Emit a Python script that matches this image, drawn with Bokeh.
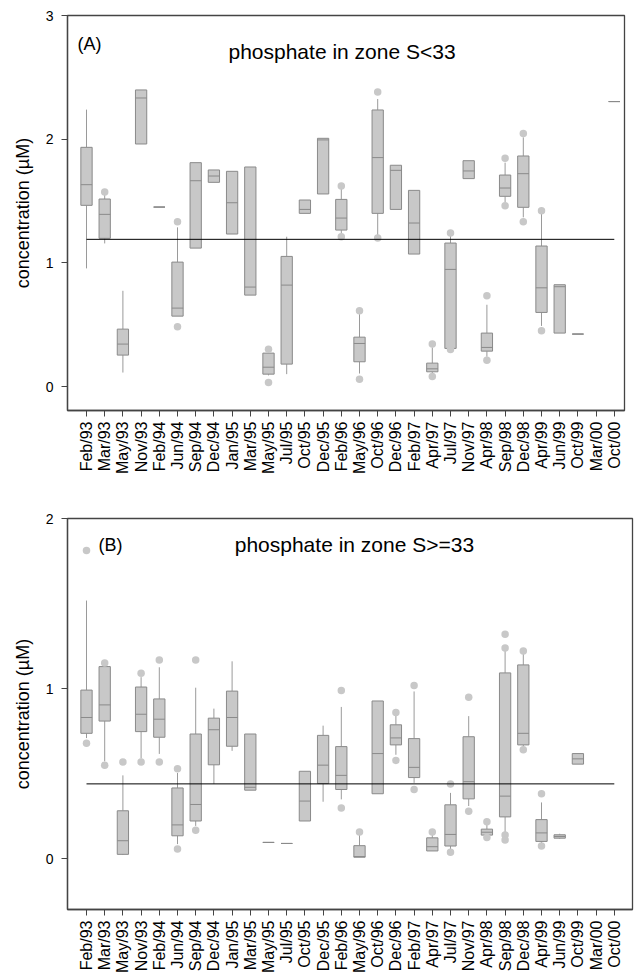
import math
from bokeh.plotting import figure
from bokeh.models import ColumnDataSource, FixedTicker, Label, Range1d
from bokeh.layouts import column
from bokeh.embed import file_html
from bokeh.resources import INLINE

# ---------------- data ----------------
months = ["Feb/93", "Mar/93", "May/93", "Nov/93", "Feb/94", "Jun/94", "Sep/94", "Dec/94",
          "Jan/95", "Mar/95", "May/95", "Jul/95", "Oct/95", "Dec/95", "Feb/96", "May/96",
          "Oct/96", "Dec/96", "Feb/97", "Apr/97", "Jul/97", "Nov/97", "Apr/98", "Sep/98",
          "Dec/98", "Apr/99", "Jun/99", "Oct/99", "Mar/00", "Oct/00"]

# Panel A: phosphate in zone S<33
a_wlo = [0.955, 1.157, 0.113, 1.961, 1.451, 0.569, 1.119, 1.651, 1.233, 0.739, 0.090, 0.100, 1.400, 1.557, 1.233,
         0.105, 1.220, 1.432, 1.071, 0.105, 0.308, 1.681, 0.240, 1.490, 1.368, 0.490, 0.432, 0.424, None, 2.304]
a_q1 = [1.465, 1.198, 0.254, 1.961, 1.451, 0.569, 1.119, 1.651, 1.233, 0.739, 0.100, 0.181, 1.400, 1.557, 1.265,
        0.200, 1.400, 1.432, 1.071, 0.119, 0.308, 1.681, 0.286, 1.538, 1.449, 0.599, 0.432, 0.424, None, 2.304]
a_med = [1.632, 1.392, 0.343, 2.333, 1.451, 0.634, 1.664, 1.702, 1.486, 0.804, 0.156, 0.820, 1.432, 1.994, 1.362,
         0.348, 1.851, 1.748, 1.322, 0.143, 0.947, 1.743, 0.316, 1.605, 1.721, 0.798, 0.807, 0.424, None, 2.304]
a_q3 = [1.934, 1.516, 0.464, 2.398, 1.451, 1.006, 1.810, 1.751, 1.740, 1.775, 0.270, 1.052, 1.508, 2.007, 1.513,
        0.399, 2.236, 1.789, 1.586, 0.189, 1.160, 1.826, 0.432, 1.710, 1.864, 1.136, 0.823, 0.424, None, 2.304]
a_whi = [2.239, 1.550, 0.774, 2.398, 1.451, 1.287, 1.810, 1.751, 1.740, 1.775, 0.290, 1.211, 1.508, 2.007, 1.597,
         0.585, 2.325, 1.789, 1.586, 0.316, 1.220, 1.826, 0.661, 1.810, 2.015, 1.395, 0.823, 0.424, None, 2.304]
a_out = [[], [1.573], [], [], [], [1.333, 0.483], [], [], [], [], [0.302, 0.032], [], [], [], [1.621, 1.211],
         [0.612, 0.059], [2.382, 1.200], [], [], [0.343, 0.081], [1.241, 0.300], [], [0.734, 0.213],
         [1.845, 1.462], [2.045, 1.333], [1.422, 0.450], [], [], [], []]
a_ref = 1.19

# Panel B: phosphate in zone S>=33
b_wlo = [0.710, 0.573, 0.023, 0.590, 0.617, 0.087, 0.194, 0.441, 0.635, 0.404, 0.097, 0.091, 0.223, 0.336, 0.350,
         0.010, 0.383, 0.612, 0.447, 0.047, 0.058, 0.311, 0.140, 0.155, 0.650, 0.091, 0.118, 0.557, None, None]
b_q1 = [0.738, 0.810, 0.027, 0.748, 0.715, 0.136, 0.223, 0.553, 0.662, 0.404, 0.097, 0.091, 0.223, 0.443, 0.408,
        0.010, 0.383, 0.670, 0.478, 0.047, 0.076, 0.353, 0.140, 0.247, 0.670, 0.103, 0.122, 0.557, None, None]
b_med = [0.831, 0.905, 0.107, 0.850, 0.821, 0.200, 0.320, 0.759, 0.831, 0.421, 0.097, 0.091, 0.340, 0.551, 0.491,
         0.014, 0.619, 0.711, 0.538, 0.072, 0.144, 0.454, 0.157, 0.369, 0.738, 0.153, 0.132, 0.588, None, None]
b_q3 = [0.992, 1.130, 0.283, 1.010, 0.940, 0.417, 0.734, 0.827, 0.986, 0.734, 0.097, 0.091, 0.515, 0.726, 0.660,
        0.078, 0.928, 0.788, 0.707, 0.124, 0.318, 0.718, 0.175, 1.093, 1.140, 0.231, 0.142, 0.619, None, None]
b_whi = [1.518, 1.136, 0.491, 1.068, 1.126, 0.505, 1.006, 0.883, 1.161, 0.734, 0.097, 0.091, 0.515, 0.783, 0.893,
         0.146, 0.928, 0.845, 0.984, 0.146, 0.388, 0.839, 0.204, 1.223, 1.204, 0.332, 0.148, 0.619, None, None]
b_out = [[1.812, 0.680], [1.151, 0.550], [0.569], [1.091, 0.569], [1.169, 0.569], [0.530, 0.058],
         [1.169, 0.169], [], [], [], [], [], [], [], [0.990, 0.299], [0.159], [], [0.860, 0.579],
         [1.019, 0.408], [0.159], [0.441, 0.039], [0.950, 0.280], [0.219, 0.126],
         [1.320, 1.239, 0.140, 0.111], [1.221, 0.641], [0.383, 0.076], [], [], [], []]
b_ref = 0.441

a_yticks = [0, 1, 2, 3]
b_yticks = [0, 1, 2]

# ---------------- style ----------------
FONT = "Liberation Sans"
BOX_FILL = "#c8c8c8"
BOX_LINE = "#8a8a8a"
WHISK = "#9a9a9a"
FRAME = "#444444"
BOX_W = 0.62
PX_PER_CAT = 18.2


def make_panel(wlo, q1, med, q3, whi, outl, ref, yticks, yrange, width, height,
               borders, tag, tag_xy, title, title_xy):
    xs = list(range(1, len(months) + 1))
    p = figure(width=width, height=height, output_backend="svg", toolbar_location=None,
               x_range=Range1d(-0.044, -0.044 + (width - borders[0] - borders[1]) / PX_PER_CAT),
               y_range=Range1d(*yrange))
    p.min_border_left, p.min_border_right, p.min_border_top, p.min_border_bottom = borders
    p.xgrid.visible = False
    p.ygrid.visible = False
    p.outline_line_color = FRAME
    p.outline_line_width = 1.3
    p.background_fill_color = "white"
    p.border_fill_color = "white"

    idx = [i for i in range(len(xs)) if med[i] is not None]
    src = ColumnDataSource(dict(
        x=[xs[i] for i in idx],
        xl=[xs[i] - BOX_W / 2 for i in idx],
        xr=[xs[i] + BOX_W / 2 for i in idx],
        wlo=[wlo[i] for i in idx], q1=[q1[i] for i in idx], med=[med[i] for i in idx],
        q3=[q3[i] for i in idx], whi=[whi[i] for i in idx]))

    p.segment(x0="x", y0="q3", x1="x", y1="whi", source=src, line_color=WHISK, line_width=1)
    p.segment(x0="x", y0="wlo", x1="x", y1="q1", source=src, line_color=WHISK, line_width=1)
    p.vbar(x="x", width=BOX_W, bottom="q1", top="q3", source=src,
           fill_color=BOX_FILL, line_color=BOX_LINE, line_width=1)
    p.segment(x0="xl", y0="med", x1="xr", y1="med", source=src, line_color=BOX_LINE, line_width=1)

    ox, oy = [], []
    for i, vals in enumerate(outl):
        for v in vals:
            ox.append(xs[i])
            oy.append(v)
    p.scatter(ox, oy, size=7.5, fill_color=BOX_FILL, line_color=None)

    p.line([xs[0], xs[-1]], [ref, ref], line_color="black", line_width=1)

    # axes
    p.xaxis.ticker = FixedTicker(ticks=xs)
    p.xaxis.major_label_overrides = {x: m for x, m in zip(xs, months)}
    p.xaxis.major_label_orientation = math.pi / 2
    p.yaxis.ticker = FixedTicker(ticks=yticks)
    p.axis.minor_tick_line_color = None
    p.axis.major_tick_in = 0
    p.axis.major_tick_out = 6
    p.axis.axis_line_color = FRAME
    p.axis.axis_line_width = 1.3
    p.axis.major_tick_line_color = FRAME
    p.axis.major_label_text_font = FONT
    p.axis.major_label_text_color = "black"
    p.xaxis.major_label_text_font_size = "16px"
    p.yaxis.major_label_text_font_size = "14px"
    p.xaxis.major_label_standoff = 5
    p.yaxis.major_label_standoff = 8
    p.yaxis.axis_label = "concentration (µM)"
    p.yaxis.axis_label_text_font = FONT
    p.yaxis.axis_label_text_font_size = "18px"
    p.yaxis.axis_label_text_font_style = "normal"
    p.yaxis.axis_label_text_color = "black"
    p.yaxis.axis_label_standoff = 10

    p.add_layout(Label(x=tag_xy[0], y=tag_xy[1], text=tag, text_font=FONT,
                       text_font_size="18px", text_color="black",
                       text_align="left", text_baseline="alphabetic"))
    p.add_layout(Label(x=title_xy[0], y=title_xy[1], text=title, text_font=FONT,
                       text_font_size="21px", text_color="black",
                       text_align="center", text_baseline="alphabetic"))
    return p


pa = make_panel(a_wlo, a_q1, a_med, a_q3, a_whi, a_out, a_ref, a_yticks, (-0.194, 3.0),
                628, 480, (67, 4, 15, 70), "(A)", (0.505, 2.767),
                "phosphate in zone S<33", (15.04, 2.706))
pb = make_panel(b_wlo, b_q1, b_med, b_q3, b_whi, b_out, b_ref, b_yticks, (-0.297, 2.0),
                636, 495, (67, 4, 38, 62), "(B)", (1.659, 1.846),
                "phosphate in zone S>=33", (15.72, 1.846))

layout = column(pa, pb)
open("out.html", "w").write(file_html(layout, INLINE))
